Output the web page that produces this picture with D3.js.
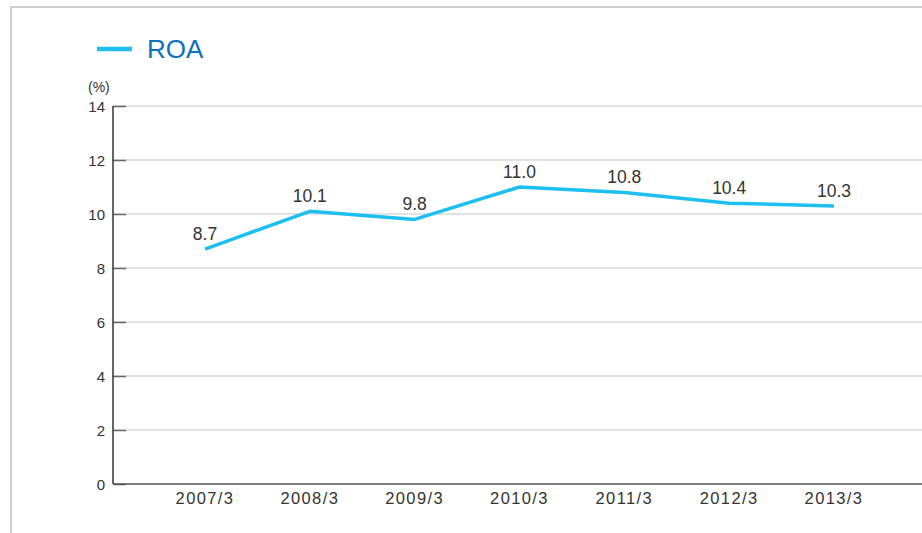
<!DOCTYPE html>
<html>
<head>
<meta charset="utf-8">
<script src="https://cdn.jsdelivr.net/npm/d3@7"></script>
<style>
  html, body { margin: 0; padding: 0; background: #fff; }
  svg { display: block; font-family: "Liberation Sans", Arial, sans-serif; }
</style>
</head>
<body>
<div id="container"></div>
<script>
// chart data
const periods = ["2007/3", "2008/3", "2009/3", "2010/3", "2011/3", "2012/3", "2013/3"];
const roa = [8.7, 10.1, 9.8, 11.0, 10.8, 10.4, 10.3];
const yTicks = [0, 2, 4, 6, 8, 10, 12, 14];
const seriesName = "ROA";
const unitLabel = "(%)";

const width = 922, height = 533;
const svg = d3.select("#container").append("svg")
  .attr("width", width)
  .attr("height", height);

// outer frame
svg.append("path")
  .attr("d", `M11,${height} V7 H${width}`)
  .attr("fill", "none")
  .attr("stroke", "#cfcfcf")
  .attr("stroke-width", 2);

const x = d3.scalePoint()
  .domain(periods)
  .range([205, 834]);

const y = d3.scaleLinear()
  .domain([0, 14])
  .range([484, 106]);

const left = 113, right = width;

// gridlines
svg.append("g")
  .selectAll("line")
  .data(yTicks.filter(d => d > 0))
  .join("line")
  .attr("x1", left)
  .attr("x2", right)
  .attr("y1", d => y(d))
  .attr("y2", d => y(d))
  .attr("stroke", "#d9d9d9")
  .attr("stroke-width", 1.5);

// y axis
const yAxis = svg.append("g")
  .attr("transform", `translate(${left},0)`)
  .call(d3.axisRight(y).tickValues(yTicks).tickSize(13).tickFormat(""));
yAxis.select(".domain").remove();
yAxis.selectAll(".tick line").attr("stroke", "#666").attr("stroke-width", 1.5);

svg.append("line")
  .attr("x1", left).attr("x2", left)
  .attr("y1", y(14)).attr("y2", y(0))
  .attr("stroke", "#333").attr("stroke-width", 1.5);

svg.append("g")
  .selectAll("text")
  .data(yTicks)
  .join("text")
  .attr("x", left - 8)
  .attr("y", d => y(d) + 5.5)
  .attr("text-anchor", "end")
  .attr("fill", "#333")
  .style("font-size", "15px")
  .text(d => d);

svg.append("text")
  .attr("x", 88)
  .attr("y", 92)
  .attr("fill", "#333")
  .style("font-size", "14px")
  .text(unitLabel);

// x axis
svg.append("line")
  .attr("x1", left).attr("x2", right)
  .attr("y1", y(0)).attr("y2", y(0))
  .attr("stroke", "#555").attr("stroke-width", 1.5);

svg.append("g")
  .selectAll("text")
  .data(periods)
  .join("text")
  .attr("x", d => x(d))
  .attr("y", 504)
  .attr("text-anchor", "middle")
  .attr("fill", "#333")
  .style("font-size", "16.5px")
  .style("letter-spacing", "1.4px")
  .text(d => d);

// line
const line = d3.line()
  .x((d, i) => x(periods[i]))
  .y(d => y(d));

svg.append("path")
  .datum(roa)
  .attr("d", line)
  .attr("fill", "none")
  .attr("stroke", "#1dbff0")
  .attr("stroke-width", 3.5)
  .attr("stroke-linejoin", "round");

// value labels
svg.append("g")
  .selectAll("text")
  .data(roa)
  .join("text")
  .attr("x", (d, i) => x(periods[i]))
  .attr("y", d => y(d) - 9)
  .attr("text-anchor", "middle")
  .attr("fill", "#333")
  .style("font-size", "17.5px")
  .text(d => d.toFixed(1));

// legend
svg.append("line")
  .attr("x1", 97).attr("x2", 132)
  .attr("y1", 49).attr("y2", 49)
  .attr("stroke", "#1dbff0")
  .attr("stroke-width", 4.5);

svg.append("text")
  .attr("x", 147)
  .attr("y", 57.5)
  .attr("fill", "#0b72bb")
  .style("font-size", "26px")
  .text(seriesName);
</script>
</body>
</html>
